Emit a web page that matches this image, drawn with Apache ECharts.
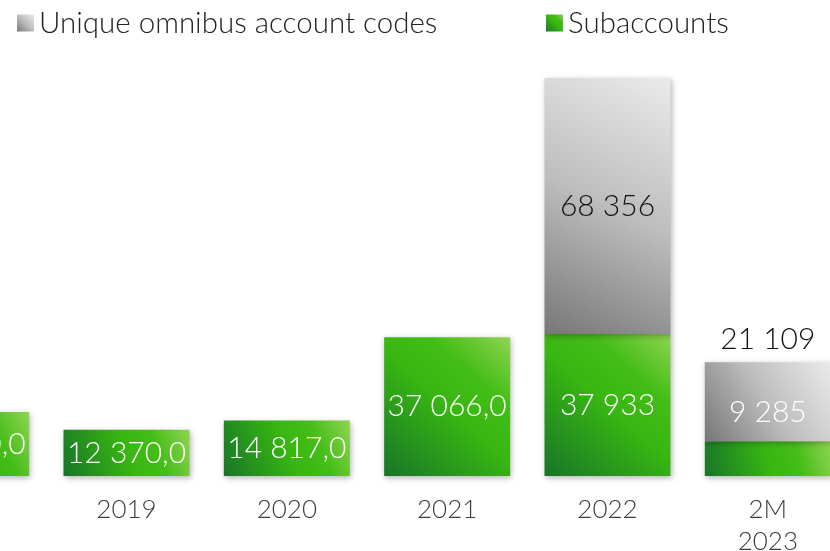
<!DOCTYPE html>
<html><head><meta charset="utf-8">
<script src="https://cdn.jsdelivr.net/npm/echarts@6/dist/echarts.min.js"></script>
<style>html,body{margin:0;padding:0;background:#fff}#c{width:830px;height:551px}</style>
</head><body><div id="c"></div>
<script>
const categories = ['2018', '2019', '2020', '2021', '2022', '2M\n2023'];
const subaccounts = [17100, 12370, 14817, 37066, 37933, 9285];
const omnibusCodes = [null, null, null, null, 68356, 21109];
const subLabels = ['17 100,0', '12 370,0', '14 817,0', '37 066,0', '37 933', '9 285'];
const omnibusLabels = ['', '', '', '', '68 356', '21 109'];
const legendNames = ['Unique omnibus account codes', 'Subaccounts'];

const FONT = 'Lato, "Open Sans", sans-serif';
const green = new echarts.graphic.LinearGradient(0, 1, 1, 0, [
  {offset: 0, color: '#177528'}, {offset: 0.5, color: '#38b612'}, {offset: 0.72, color: '#44bd17'}, {offset: 1, color: '#90d452'}]);
const gray = new echarts.graphic.LinearGradient(0, 1, 1, 0, [
  {offset: 0, color: '#777777'}, {offset: 0.5, color: '#bdbdbd'}, {offset: 1, color: '#ebebeb'}]);
const shadow = {shadowBlur: 6, shadowColor: 'rgba(0,0,0,0.3)', shadowOffsetX: 1, shadowOffsetY: 2};
const legendText = {fontFamily: FONT, fontSize: 29.5, fontWeight: 300, color: '#222'};

const chart = echarts.init(document.getElementById('c'));
chart.setOption({
  animation: false,
  legend: [
    {left: 12, top: 3, itemWidth: 17, itemHeight: 17, itemGap: 5, icon: 'rect', data: [legendNames[0]], textStyle: legendText},
    {left: 541, top: 3, itemWidth: 17, itemHeight: 17, icon: 'rect', data: [legendNames[1]], textStyle: legendText}
  ],
  grid: {left: -114, right: -18, top: 64, bottom: 75, containLabel: false, outerBoundsMode: 'none'},
  xAxis: {
    type: 'category', data: categories,
    axisLine: {show: false}, axisTick: {show: false},
    axisLabel: {margin: 18, fontFamily: FONT, fontSize: 26, fontWeight: 300, color: '#3c3c3c', lineHeight: 32, interval: 0}
  },
  yAxis: {type: 'value', min: 0, max: 110000, show: false, splitLine: {show: false}},
  series: [
    {
      name: legendNames[1], type: 'bar', stack: 'a', barWidth: 126,
      itemStyle: Object.assign({color: green}, shadow),
      data: subaccounts.map((v, i) => ({
        value: v,
        label: i === 5 ? {offset: [0, -46]} : {}
      })),
      label: {
        show: true, position: 'inside', color: '#fff', fontFamily: FONT, fontSize: 30, fontWeight: 300,
        formatter: p => subLabels[p.dataIndex]
      }
    },
    {
      name: legendNames[0], type: 'bar', stack: 'a', barWidth: 126,
      itemStyle: Object.assign({color: gray}, shadow),
      data: omnibusCodes.map((v, i) => ({
        value: v,
        label: i === 5 ? {position: 'top', distance: 8} : {}
      })),
      label: {
        show: true, position: 'inside', color: '#111', fontFamily: FONT, fontSize: 30, fontWeight: 300,
        formatter: p => omnibusLabels[p.dataIndex]
      }
    }
  ]
});
</script></body></html>
